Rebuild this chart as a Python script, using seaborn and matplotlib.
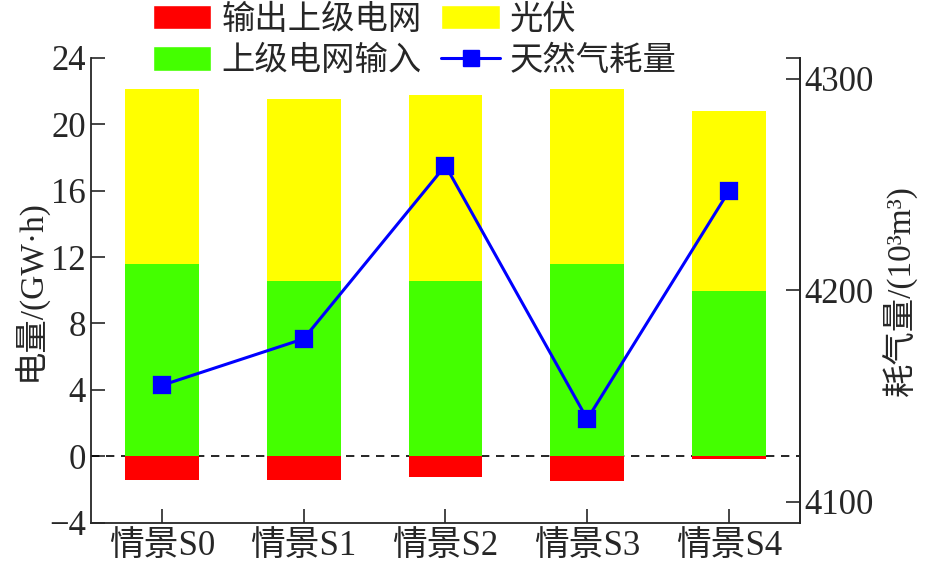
import numpy as np
import pandas as pd
import matplotlib
matplotlib.use("Agg")
import matplotlib.pyplot as plt
import seaborn as sns
from matplotlib.patches import Patch
from matplotlib.lines import Line2D

# 数据
cenarios = ['情景S0', '情景S1', '情景S2', '情景S3', '情景S4']
entrada_rede = [11.6, 10.55, 10.55, 11.6, 9.95]      # 上级电网输入
fotovoltaica = [10.5, 10.95, 11.2, 10.5, 10.85]      # 光伏
saida_rede = [-1.45, -1.45, -1.25, -1.48, -0.15]     # 输出上级电网
consumo_gas = [4155, 4177, 4259, 4139, 4247]         # 天然气耗量

sns.set_style("ticks")
plt.rcParams['font.family'] = ['Liberation Serif', 'Noto Sans CJK SC']
plt.rcParams['axes.unicode_minus'] = True

df = pd.DataFrame({
    'CENARIO': cenarios,
    'ENTRADA': entrada_rede,
    'TOTAL': np.array(entrada_rede) + np.array(fotovoltaica),
    'SAIDA': saida_rede,
    'GAS': consumo_gas,
})

fig = plt.figure(figsize=(9.32, 5.67), dpi=100)
ax = fig.add_axes([0.0976, 0.0781, 0.7607, 0.8201])

cor_vermelho = '#FF0000'
cor_amarelo = '#FFFF00'
cor_verde = '#44FF00'
cor_azul = '#0000FF'

# Barras empilhadas (total por baixo, entrada por cima)
for col, cor in [('TOTAL', cor_amarelo), ('ENTRADA', cor_verde), ('SAIDA', cor_vermelho)]:
    sns.barplot(data=df, x='CENARIO', y=col, color=cor, width=0.52,
                saturation=1, linewidth=0, ax=ax, zorder=2)

ax.axhline(0, color='black', linestyle=(0, (5, 4)), linewidth=1.2, zorder=1)

ax.set_xlim(-0.5, 4.5)
ax.set_ylim(-4, 24)
ax.set_yticks([-4, 0, 4, 8, 12, 16, 20, 24])
ax.set_xlabel('')
ax.set_ylabel('电量/(GW·h)', fontsize=24, labelpad=2)
ax.tick_params(axis='both', direction='in', length=10, width=1.2, labelsize=25)
ax.tick_params(axis='x', pad=5)
ax.spines['top'].set_visible(False)
for s in ['left', 'bottom', 'right']:
    ax.spines[s].set_linewidth(1.3)

# Eixo secundário: consumo de gás
ax2 = ax.twinx()
sns.pointplot(data=df, x='CENARIO', y='GAS', color=cor_azul, markers='s',
              linestyles='-', markersize=11, linewidth=2.2, ax=ax2)
ax2.set_xlim(-0.5, 4.5)
ax2.set_ylim(4090, 4310)
ax2.set_yticks([4100, 4200, 4300])
ax2.set_yticks([4310], minor=True)
ax2.set_ylabel('耗气量/(10³m³)', fontsize=24, labelpad=6)
ax2.tick_params(axis='y', which='both', direction='in', length=10, width=1.2, labelsize=25)
ax2.spines['top'].set_visible(False)
ax2.spines['right'].set_linewidth(1.3)
ax2.spines['left'].set_visible(False)
ax2.spines['bottom'].set_visible(False)
ax2.set_xlabel('')

# Legenda
handles = [
    Patch(facecolor=cor_vermelho, label='输出上级电网'),
    Patch(facecolor=cor_verde, label='上级电网输入'),
    Patch(facecolor=cor_amarelo, label='光伏'),
    Line2D([0], [0], color=cor_azul, marker='s', markersize=11, linewidth=2.2, label='天然气耗量'),
]
fig.legend(handles=handles, ncol=2, loc='upper left', bbox_to_anchor=(0.164, 0.992),
           frameon=False, fontsize=24, handlelength=1.75, handleheight=0.75,
           handletextpad=0.3, columnspacing=0.6, labelspacing=0.3, borderpad=0,
           borderaxespad=0)

plt.savefig('out.png', dpi=100)
plt.close()
